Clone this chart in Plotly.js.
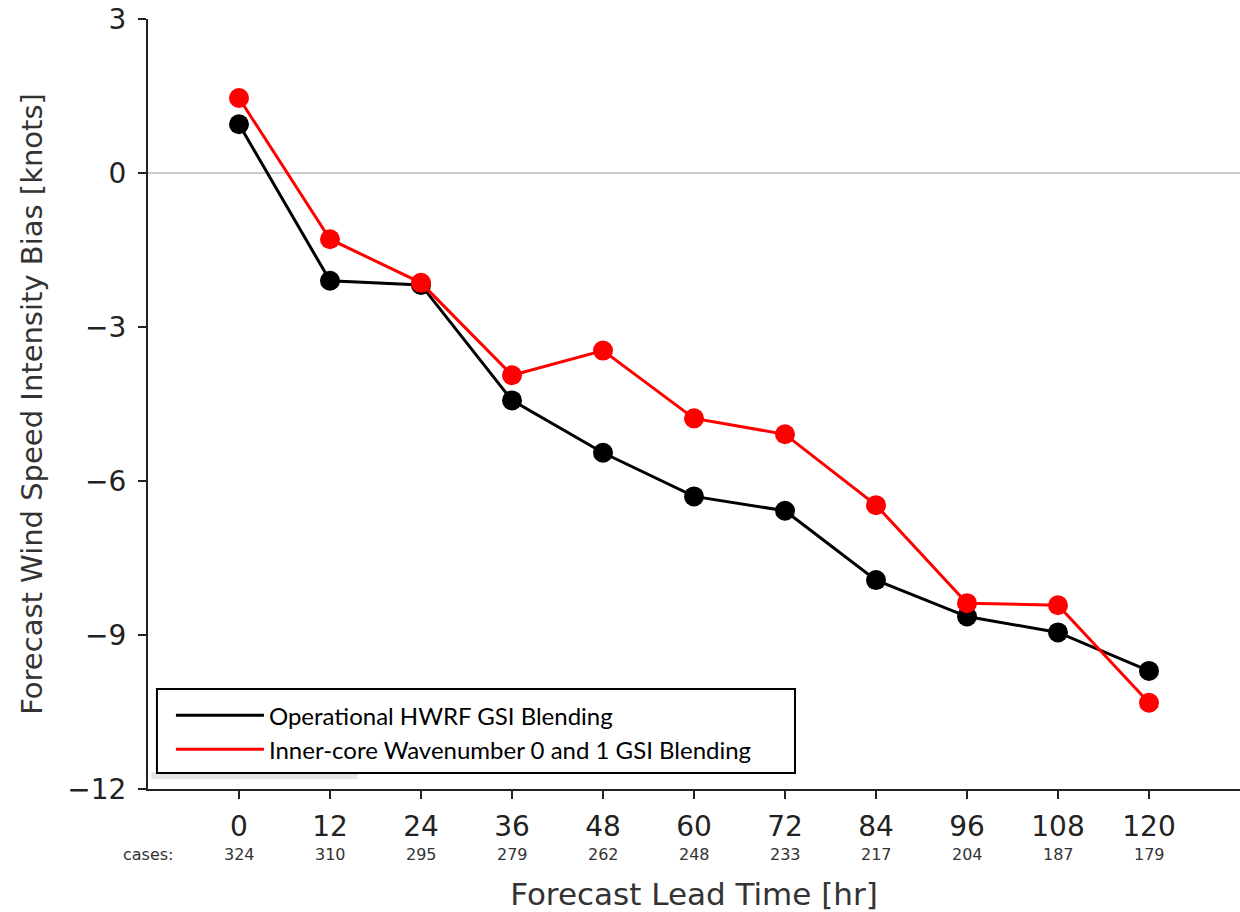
<!DOCTYPE html>
<html>
<head>
<meta charset="utf-8">
<script src="https://cdn.plot.ly/plotly-3.0.1.min.js"></script>
<style>html,body{margin:0;padding:0;background:#fff;}#chart{width:1240px;height:912px;}</style>
</head>
<body>
<div id="chart"></div>
<script>
const hours = [0, 12, 24, 36, 48, 60, 72, 84, 96, 108, 120];
const cases = [324, 310, 295, 279, 262, 248, 233, 217, 204, 187, 179];
const operational = [0.95, -2.10, -2.18, -4.43, -5.45, -6.30, -6.58, -7.93, -8.64, -8.95, -9.70];
const innerCore = [1.46, -1.29, -2.14, -3.94, -3.46, -4.78, -5.09, -6.47, -8.38, -8.42, -10.32];
const seriesNames = ["Operational HWRF GSI Blending", "Inner-core Wavenumber 0 and 1 GSI Blending"];
const yTicks = [-12, -9, -6, -3, 0, 3];
const yTickText = ["\u221212", "\u22129", "\u22126", "\u22123", "0", "3"];

const traces = [
  {x: hours, y: operational, mode: "lines+markers", name: seriesNames[0], showlegend: false,
   line: {color: "#000000", width: 3}, marker: {color: "#000000", size: 20}},
  {x: hours, y: innerCore, mode: "lines+markers", name: seriesNames[1], showlegend: false,
   line: {color: "#ff0000", width: 3}, marker: {color: "#ff0000", size: 20}},
  {x: [null], y: [null], mode: "lines", name: seriesNames[0], line: {color: "#000000", width: 3}},
  {x: [null], y: [null], mode: "lines", name: seriesNames[1], line: {color: "#ff0000", width: 3}}
];

const annotations = cases.map((c, i) => ({
  x: hours[i], y: -0.0857, xref: "x", yref: "paper", text: String(c), showarrow: false,
  xanchor: "center", yanchor: "middle", font: {family: "DejaVu Sans", size: 16, color: "#333333"}
}));
annotations.push({x: -12, y: -0.0857, xref: "x", yref: "paper", text: "cases:", showarrow: false,
  xanchor: "center", yanchor: "middle", font: {family: "DejaVu Sans", size: 16, color: "#333333"}});

const layout = {
  width: 1240, height: 912,
  margin: {l: 148, r: 0, t: 19, b: 123, pad: 0},
  paper_bgcolor: "#ffffff", plot_bgcolor: "#ffffff",
  showlegend: true,
  legend: {x: 0.021, y: 0.022, xanchor: "left", yanchor: "bottom", bgcolor: "rgba(0,0,0,0)",
    borderwidth: 0, itemwidth: 88, font: {family: "Lato", size: 24, color: "#000000"}, tracegroupgap: 0},
  xaxis: {range: [-12, 132], tickvals: hours, ticktext: hours.map(String), showgrid: false, zeroline: false,
    showline: true, linecolor: "#222222", linewidth: 2, ticks: "outside", ticklen: 8, tickwidth: 2, tickcolor: "#222222",
    tickfont: {family: "DejaVu Sans", size: 28, color: "#222222"}, ticklabelstandoff: 3,
    title: {text: "Forecast Lead Time [hr]", font: {family: "DejaVu Sans", size: 31, color: "#333333"}, standoff: 44}},
  yaxis: {range: [-12, 3], tickvals: yTicks, ticktext: yTickText, showgrid: false,
    zeroline: true, zerolinecolor: "#cccccc", zerolinewidth: 2,
    showline: true, linecolor: "#222222", linewidth: 2, ticks: "outside", ticklen: 8, tickwidth: 2, tickcolor: "#222222",
    tickfont: {family: "DejaVu Sans", size: 28, color: "#222222"}, ticklabelstandoff: 6,
    title: {text: "Forecast Wind Speed Intensity Bias [knots]", font: {family: "DejaVu Sans", size: 29, color: "#333333"}, standoff: 16}},
  shapes: [
    {type: "rect", xref: "paper", yref: "paper", x0: 0.003, x1: 0.192, y0: 0.013, y1: 0.022,
     fillcolor: "#e6e6e6", line: {width: 0}, layer: "below"},
    {type: "rect", xref: "paper", yref: "paper", x0: 0.0082, x1: 0.5925, y0: 0.0208, y1: 0.1299,
     fillcolor: "#ffffff", line: {color: "#000000", width: 2}, layer: "above"}
  ],
  annotations: annotations
};

Plotly.newPlot("chart", traces, layout, {displayModeBar: false, staticPlot: true});
</script>
</body>
</html>
